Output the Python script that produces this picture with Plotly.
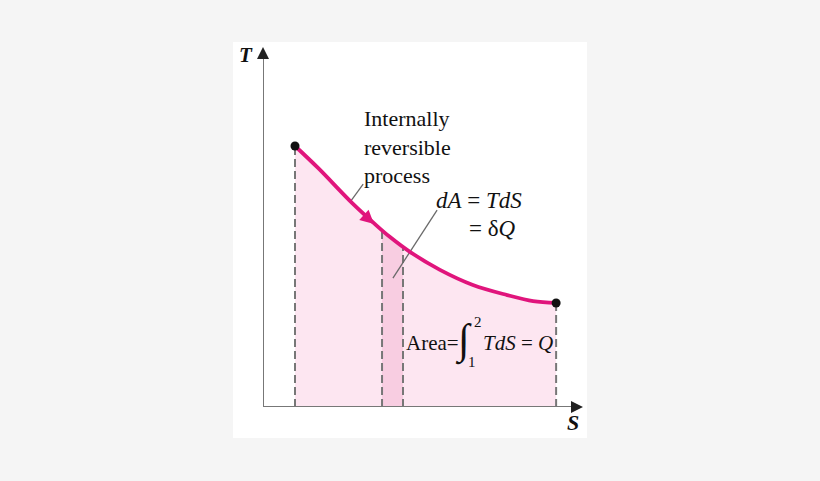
import plotly.graph_objects as go

# process curve 1 -> 2 on the T-S diagram (arbitrary units)
S_CURVE = [1.0, 1.72, 2.78, 3.5, 3.97, 4.59, 5.53, 6.56, 7.63, 8.44, 9.16]
T_CURVE = [7.25, 6.64, 5.67, 5.08, 4.72, 4.31, 3.81, 3.39, 3.11, 2.94, 2.89]

# thin strip dA = TdS
S_STRIP = [3.72, 4.375]
T_STRIP = [4.92, 4.47]

# leader lines for the labels
PROC_LEADER_S = [2.72, 3.13]
PROC_LEADER_T = [5.69, 6.19]
DA_LEADER_S = [4.06, 5.44]
DA_LEADER_T = [3.58, 5.47]

MAGENTA = "#e0157c"
FILL = "#fde6f1"
FILL_STRIP = "#f8cde1"
GRAY = "#777777"
BG = "#f5f5f5"
INK = "#111111"
SERIF = "Liberation Serif, Times New Roman, serif"

fig = go.Figure()

# area under the curve
fig.add_trace(go.Scatter(
    x=S_CURVE, y=T_CURVE, mode="lines", fill="tozeroy", fillcolor=FILL,
    line=dict(color="rgba(0,0,0,0)", width=0, shape="spline"),
    hoverinfo="skip", showlegend=False,
))
fig.add_trace(go.Scatter(
    x=S_STRIP, y=T_STRIP, mode="lines", fill="tozeroy", fillcolor=FILL_STRIP,
    line=dict(color="rgba(0,0,0,0)", width=0),
    hoverinfo="skip", showlegend=False,
))

# dashed verticals
dash_s = [S_CURVE[0], S_STRIP[0], S_STRIP[1], S_CURVE[-1]]
dash_t = [T_CURVE[0], T_STRIP[0], T_STRIP[1], T_CURVE[-1]]
dx, dy = [], []
for s, t in zip(dash_s, dash_t):
    dx += [s, s, None]
    dy += [0, t, None]
fig.add_trace(go.Scatter(
    x=dx, y=dy, mode="lines", line=dict(color=GRAY, width=2, dash="8px,4px"),
    hoverinfo="skip", showlegend=False,
))

# leader lines
for xs, ys in [(PROC_LEADER_S, PROC_LEADER_T), (DA_LEADER_S, DA_LEADER_T)]:
    fig.add_trace(go.Scatter(
        x=xs, y=ys, mode="lines", line=dict(color="#6a6a6a", width=1.3),
        hoverinfo="skip", showlegend=False,
    ))

# process curve
fig.add_trace(go.Scatter(
    x=S_CURVE, y=T_CURVE, mode="lines",
    line=dict(color=MAGENTA, width=3.8, shape="spline"),
    showlegend=False,
))
fig.add_trace(go.Scatter(
    x=[S_CURVE[0], S_CURVE[-1]], y=[T_CURVE[0], T_CURVE[-1]], mode="markers",
    marker=dict(color=INK, size=9), showlegend=False, cliponaxis=False,
))

# white panel + axes
fig.add_shape(type="rect", xref="paper", yref="paper",
              x0=-0.094, x1=1.0125, y0=-0.086, y1=1.014,
              fillcolor="white", line=dict(width=0), layer="below")
fig.add_shape(type="line", x0=0, y0=0, x1=0, y1=9.8, line=dict(color=GRAY, width=2))
fig.add_shape(type="line", x0=0, y0=0, x1=9.8, y1=0, line=dict(color=GRAY, width=2))

fig.add_annotation(x=0, y=10, ax=0, ay=10, text="", showarrow=True,
                   arrowhead=2, arrowsize=1.2, arrowwidth=2, arrowcolor="#222222")
fig.add_annotation(x=10, y=0, ax=-10, ay=0, text="", showarrow=True,
                   arrowhead=2, arrowsize=1.2, arrowwidth=2, arrowcolor="#222222")
# direction arrow on the curve
fig.add_annotation(x=3.47, y=5.08, ax=-12, ay=-11, text="", showarrow=True,
                   arrowhead=2, arrowsize=1.1, arrowwidth=2.5, arrowcolor=MAGENTA)

# axis labels (paper coords so they are not hidden off-range)
fig.add_annotation(x=-0.053, y=0.978, xref="paper", yref="paper",
                   xanchor="center", yanchor="middle",
                   text="<b><i>T</i></b>", showarrow=False,
                   font=dict(family=SERIF, size=21, color=INK))
fig.add_annotation(x=0.969, y=-0.042, xref="paper", yref="paper",
                   xanchor="center", yanchor="middle",
                   text="<b><i>S</i></b>", showarrow=False,
                   font=dict(family=SERIF, size=22, color=INK))

fig.add_annotation(x=3.09, y=7.22, text="Internally<br>reversible<br>process",
                   xanchor="left", align="left", showarrow=False,
                   font=dict(family=SERIF, size=22, color=INK))
fig.add_annotation(x=5.35, y=5.75, text="<i>dA</i> = <i>TdS</i>", xanchor="left",
                   showarrow=False, font=dict(family=SERIF, size=23, color=INK))
fig.add_annotation(x=6.38, y=4.97, text="= δ<i>Q</i>", xanchor="left",
                   showarrow=False, font=dict(family=SERIF, size=23, color=INK))

fig.add_annotation(x=4.4, y=1.78, text="Area=", xanchor="left",
                   showarrow=False, font=dict(family=SERIF, size=21, color=INK))
fig.add_annotation(x=6.26, y=1.84, text="∫", showarrow=False,
                   font=dict(family=SERIF, size=42, color=INK))
fig.add_annotation(x=6.72, y=2.36, text="2", showarrow=False,
                   font=dict(family=SERIF, size=15, color=INK))
fig.add_annotation(x=6.53, y=1.25, text="1", showarrow=False,
                   font=dict(family=SERIF, size=15, color=INK))
fig.add_annotation(x=6.8, y=1.78, text="<i>TdS</i> = <i>Q</i>", xanchor="left",
                   showarrow=False, font=dict(family=SERIF, size=21, color=INK))

fig.update_layout(
    width=820, height=481,
    margin=dict(l=263, r=237, t=47, b=74),
    paper_bgcolor=BG, plot_bgcolor="white",
    showlegend=False,
)
fig.update_xaxes(range=[0, 10], visible=False, fixedrange=True)
fig.update_yaxes(range=[0, 10], visible=False, fixedrange=True)

fig.write_html(
    "out.html",
    config={"displayModeBar": False},
    post_script="document.body.style.margin='0';"
                "document.body.style.background='%s';" % BG,
)
